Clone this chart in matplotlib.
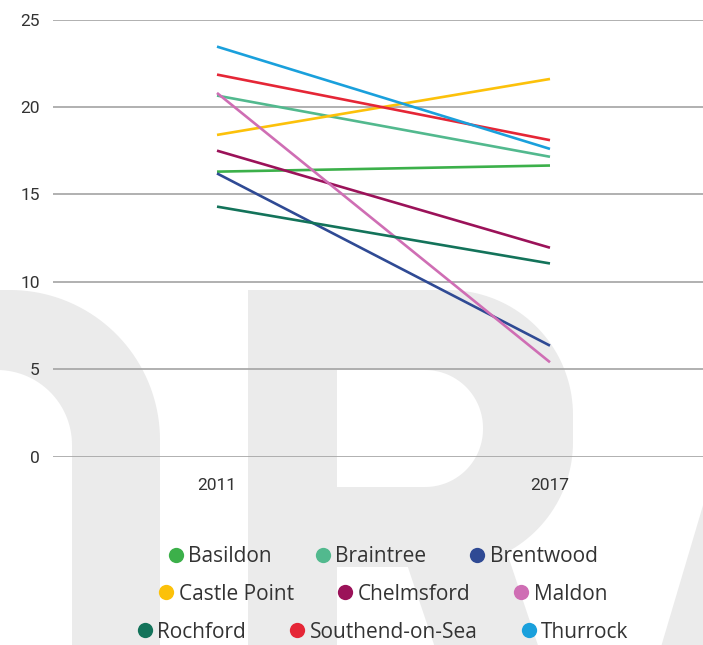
import matplotlib.pyplot as plt
import numpy as np
from matplotlib.patches import Polygon
from matplotlib.lines import Line2D

plt.rcParams['font.family'] = ['Roboto', 'DejaVu Sans']

# ---------------------------------------------------------------------------
# Data
# ---------------------------------------------------------------------------
years = ['2011', '2017']
districts = ['Basildon', 'Braintree', 'Brentwood',
             'Castle Point', 'Chelmsford', 'Maldon',
             'Rochford', 'Southend-on-Sea', 'Thurrock']
values_2011 = [16.3, 20.65, 16.2, 18.4, 17.5, 20.8, 14.3, 21.85, 23.45]
values_2017 = [16.65, 17.15, 6.35, 21.6, 11.95, 5.4, 11.05, 18.1, 17.6]
colors = ['#3cb04a', '#52b98e', '#2f4a94',
          '#fcc10a', '#9b1259', '#cf6eb4',
          '#13735a', '#e52636', '#1aa0dc']
legend_rows = [districts[0:3], districts[3:6], districts[6:9]]

# ---------------------------------------------------------------------------
# Figure, 703 x 645 px
# ---------------------------------------------------------------------------
W, H = 703, 645
fig = plt.figure(figsize=(W / 100, H / 100), dpi=100, facecolor='white')

# background layer in pixel units (y downwards) for the DRAFT watermark
bg = fig.add_axes([0, 0, 1, 1], zorder=0)
bg.set_xlim(0, W)
bg.set_ylim(H, 0)
bg.axis('off')

WM = '#ebebeb'


def rounded_box(x0, y0, x1, y1, r_tr=0, r_br=0, r_bl=0, r_tl=0, n=40):
    pts = []
    for cx, cy, r, a0, a1 in [(x1 - r_tr, y0 + r_tr, r_tr, -90, 0),
                              (x1 - r_br, y1 - r_br, r_br, 0, 90),
                              (x0 + r_bl, y1 - r_bl, r_bl, 90, 180),
                              (x0 + r_tl, y0 + r_tl, r_tl, 180, 270)]:
        t = np.radians(np.linspace(a0, a1, n))
        pts += list(zip(cx + r * np.cos(t), cy + r * np.sin(t)))
    return np.array(pts)


# "D" (only its right half shows)
bg.add_patch(Polygon(rounded_box(-300, 290, 160, 950, r_tr=150, r_br=150), fc=WM, ec='none'))
bg.add_patch(Polygon(rounded_box(-300, 370, 72, 870, r_tr=75, r_br=75), fc='white', ec='none'))
# "R"
bg.add_patch(Polygon([(248, 290), (337, 290), (337, 950), (248, 950)], fc=WM, ec='none'))
bg.add_patch(Polygon(rounded_box(248, 290, 573, 567, r_tr=125, r_br=125), fc=WM, ec='none'))
bg.add_patch(Polygon([(392, 520), (496, 520), (640, 950), (537, 950)], fc=WM, ec='none'))
bg.add_patch(Polygon(rounded_box(337, 370, 483, 487, r_tr=58, r_br=58), fc='white', ec='none'))
# "A" left stroke
bg.add_patch(Polygon([(764, 300), (1000, 300), (1000, 950), (571, 950)], fc=WM, ec='none'))

# ---------------------------------------------------------------------------
# Line chart
# ---------------------------------------------------------------------------
ax = fig.add_axes([53 / W, (H - 456.7) / H, 650 / W, 437.2 / H], zorder=1)
ax.patch.set_visible(False)

x = np.arange(len(years))
for name, a, b, c in zip(districts, values_2011, values_2017, colors):
    ax.plot(x, [a, b], color=c, lw=1.9, solid_capstyle='butt', label=name)

ax.set_xlim(-0.4925, 1.4595)
ax.set_ylim(0, 25)
ax.set_yticks(range(0, 26, 5))
ax.set_xticks(x, years)
ax.grid(axis='y', color='#a3a3a3', lw=1.2)
ax.set_axisbelow(True)
for s in ax.spines.values():
    s.set_visible(False)
ax.tick_params(axis='y', length=0, pad=9.5, labelsize=12.5, labelcolor='#333333')
ax.tick_params(axis='x', length=0, pad=15.5, labelsize=12.5, labelcolor='#333333')

# legend, three centred rows
row_y = [557, 594, 632]
cmap = dict(zip(districts, colors))
for row, yp in zip(legend_rows, row_y):
    handles = [Line2D([], [], ls='none', marker='o', ms=11, mfc=cmap[n], mec='none')
               for n in row]
    leg = fig.legend(handles, row, loc='center', bbox_to_anchor=(383 / W, (H - yp) / H),
                     ncol=3, frameon=False, handlelength=0.7, handletextpad=0.25,
                     columnspacing=2.1, borderpad=0,
                     prop={'family': 'Open Sans', 'size': 15})
    for t in leg.get_texts():
        t.set_color('#333333')

fig.savefig('out.png', dpi=100, facecolor='white')
